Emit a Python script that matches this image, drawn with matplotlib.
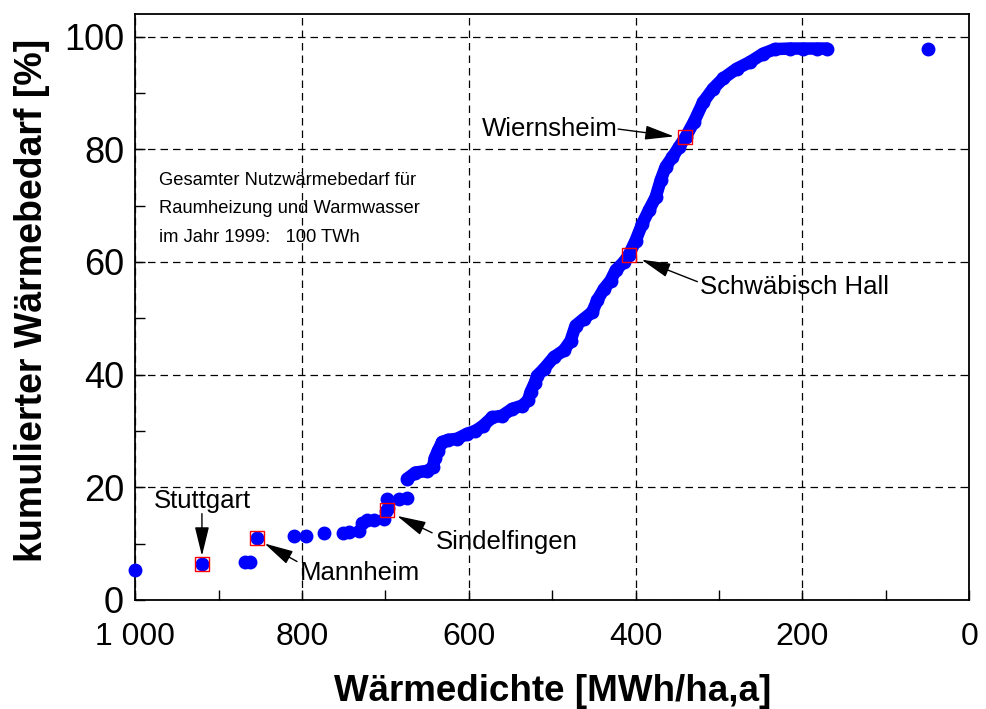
import matplotlib.pyplot as plt
from matplotlib.ticker import MultipleLocator

# einzelne Gemeinden (unterer Bereich, locker verteilt)
einzel_x = [1000, 920, 868, 862, 854, 810, 795, 774, 751, 744, 732, 728, 722, 714,
            702, 699, 697, 698, 684, 674, 49]
einzel_y = [5.3, 6.3, 6.7, 6.7, 11.0, 11.3, 11.4, 11.8, 11.9, 12.0, 12.3, 13.7, 14.2, 14.2,
            14.3, 15.8, 16.3, 17.9, 17.9, 18.0, 97.9]

# dichter Teil der Summenkurve
kurve_x = [674, 664, 650, 643, 641, 637, 632, 625, 614, 602, 592, 583, 572, 560, 548,
           536, 529, 526, 521, 518, 510, 498, 486, 478, 472, 462, 452, 446, 438, 430,
           424, 414, 408, 400, 392, 384, 376, 370, 364, 356, 348, 340, 330, 319, 307,
           295, 279, 263, 247, 233, 215, 199, 183, 171]
kurve_y = [21.5, 22.6, 22.9, 23.5, 25.1, 26.5, 28.0, 28.4, 28.6, 29.5, 30.0, 30.9, 32.4,
           32.7, 33.9, 34.5, 35.4, 36.9, 38.5, 39.8, 41.0, 43.1, 44.3, 46.0, 48.7, 49.9,
           51.1, 53.2, 55.2, 56.7, 58.5, 60.0, 61.3, 63.8, 66.8, 69.2, 71.5, 74.5, 76.9,
           78.6, 80.4, 82.2, 84.9, 88.4, 90.8, 92.6, 94.3, 95.5, 97.0, 97.8, 97.9, 97.9,
           97.9, 97.9]

# markierte Städte
staedte = ['Stuttgart', 'Mannheim', 'Sindelfingen', 'Schwäbisch Hall', 'Wiernsheim']
staedte_x = [920, 854, 698, 408.5, 340.5]
staedte_y = [6.3, 11.0, 15.9, 61.3, 82.2]

xticks = [1000, 800, 600, 400, 200, 0]
xticklabels = ['1 000', '800', '600', '400', '200', '0']
yticks = [0, 20, 40, 60, 80, 100]

info = ['Gesamter Nutzwärmebedarf für', 'Raumheizung und Warmwasser',
        'im Jahr 1999:   100 TWh']

plt.rcParams['font.family'] = ['Liberation Sans', 'DejaVu Sans']

fig = plt.figure(figsize=(9.87, 7.09), dpi=100)
ax = fig.add_axes([0.137, 0.154, 0.845, 0.826])

blau = (0, 0, 1)
ax.plot(kurve_x, kurve_y, '-', color=blau, lw=9, solid_capstyle='round', zorder=3)
ax.plot(kurve_x, kurve_y, 'o', color=blau, ms=9, zorder=3)
ax.plot(einzel_x, einzel_y, 'o', color=blau, ms=9, lw=0, zorder=3, clip_on=False)
ax.plot(staedte_x, staedte_y, 's', ms=10, mfc='none', mec='red', mew=1, lw=0, zorder=4)

ax.set_xlim(1000, 0)
ax.set_ylim(0, 104)
ax.set_xticks(xticks)
ax.set_xticklabels(xticklabels)
ax.set_yticks(yticks)
ax.xaxis.set_minor_locator(MultipleLocator(100))
ax.yaxis.set_minor_locator(MultipleLocator(10))
ax.tick_params(which='both', direction='in', length=7, width=1, top=False, right=False)
ax.tick_params(axis='y', labelsize=26, pad=8)
ax.tick_params(axis='x', labelsize=23, pad=16)

ax.grid(True, which='major', color='black', lw=0.9, ls=(0, (6, 4)))
for s in ax.spines.values():
    s.set_linewidth(1.3)

ax.set_xlabel('Wärmedichte [MWh/ha,a]', fontsize=26.5, fontweight='bold', labelpad=16)
ax.set_ylabel('kumulierter Wärmebedarf [%]', fontsize=27, fontweight='bold')
ax.yaxis.set_label_coords(-0.102, 0.512)

# Beschriftungen mit Pfeilen
pfeil = dict(arrowstyle='-|>,head_length=0.9,head_width=0.22', color='black',
             lw=1, mutation_scale=20, shrinkA=0, shrinkB=0)
fs = 18.5
ax.text(920, 17.6, 'Stuttgart', fontsize=fs, ha='center', va='center')
ax.annotate('', xy=(920, 7.8), xytext=(920, 15.3), arrowprops=pfeil)
ax.text(802, 4.8, 'Mannheim', fontsize=fs, ha='left', va='center')
ax.annotate('', xy=(845, 10.0), xytext=(806, 6.8), arrowprops=pfeil)
ax.text(639, 10.3, 'Sindelfingen', fontsize=fs, ha='left', va='center')
ax.annotate('', xy=(686, 14.9), xytext=(644, 11.9), arrowprops=pfeil)
ax.text(322.5, 55.5, 'Schwäbisch Hall', fontsize=fs, ha='left', va='center')
ax.annotate('', xy=(393, 60.4), xytext=(326, 56.5), arrowprops=pfeil)
ax.text(422, 83.6, 'Wiernsheim', fontsize=fs, ha='right', va='center')
ax.annotate('', xy=(354, 82.3), xytext=(421, 83.6), arrowprops=pfeil)

for zeile, y in zip(info, [74.5, 69.5, 64.4]):
    ax.text(972, y, zeile, fontsize=13.2, ha='left', va='center')

fig.savefig('out.png', dpi=100)
